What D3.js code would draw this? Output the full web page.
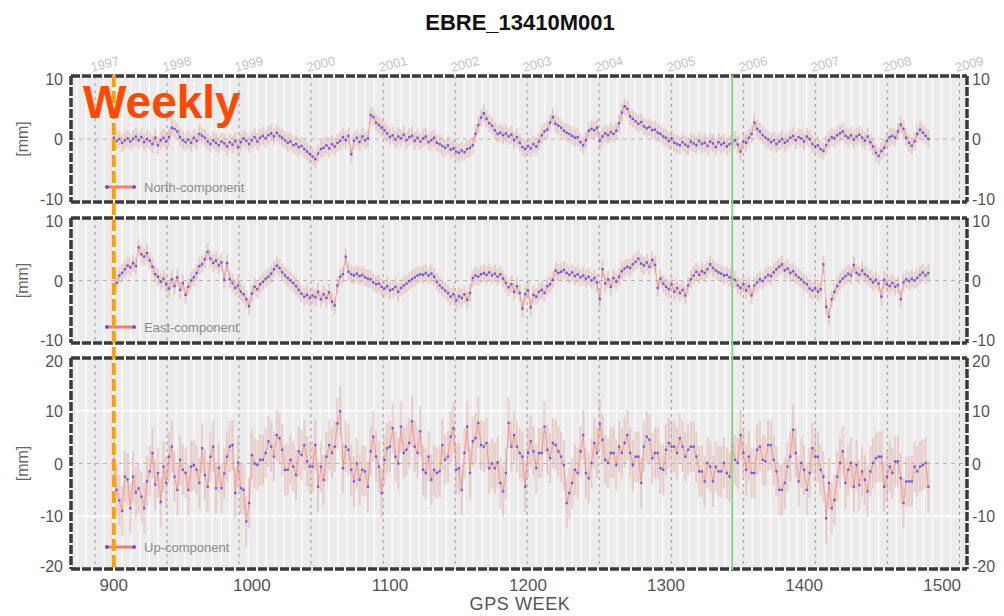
<!DOCTYPE html>
<html>
<head>
<meta charset="utf-8">
<script src="https://cdn.jsdelivr.net/npm/d3@7/dist/d3.min.js"></script>
<style>
  body { margin: 0; background: #fff; }
  svg { display: block; font-family: "Liberation Sans", Arial, sans-serif; }
</style>
</head>
<body>
<div id="chart"></div>
<script>
// station + series (mm), one value every 2 GPS weeks starting at week 900
const stationName = "EBRE_13410M001";
const firstWeek = 900;
const weekStep = 2;

const north = [
  0.2, -0.3, 0, -0.6, -0.2, 0.1, -0.4, 0, 0.4, -0.2, 0.3, -0.5, 0, -0.3, -0.8, 0.2, -1.0, -0.2, 0.2, -0.4, 0.3,
  1.8, 1.6, 1.2, 0.3, -0.2, -0.5, -0.1, -0.6, 0.2, -0.3,
  0.8, 0.5, 0.2, -0.4, -0.8, -0.2, -0.6, -1.0, -0.4, -0.7, -1.2, -0.5, -0.9, -0.3, -1.3,
  -0.5, 0.1, -0.3, -0.8, -0.2, 0.3, -0.4, 0.2, 0.5, 0.1,
  0.6, 0.9, 0.4, 1.0, 0.5, 0.2,
  -0.2, -0.6, -0.4, -1.0, -0.8, -1.3, -1.1, -1.6,
  -2.0, -2.4, -2.8, -3.2, -2.3, -1.6,
  -1.4, -1.0, -1.5, -0.8, -1.2, -0.6,
  -0.3, 0.3, -0.2, 0.5, -2.4, -0.3, 0.2, -0.5, 0.4, -0.2, 0.1,
  3.8, 3.5, 2.6, 2.2, 1.8, 1.4, 0.9,
  0.3, 0.6, -0.1, 0.4, 0.1, 0.7, -0.2, 0.3, 0.5, -0.3, 0.2, -0.4, 0.1, 0.4, -0.5, -0.2, 0.2, -0.6,
  -0.8, -1.1, -1.4, -1.0, -1.7, -1.5, -2.0, -2.2, -1.8, -2.1, -1.6, -1.4, -1.0,
  0.8, 2.2, 3.4, 4.1, 3.2, 2.5, 2.1, 1.4,
  0.8, 1.0, 0.6, 0.9, 0.4, 0.7, -0.2, 0.3, -0.6,
  -1.3, -1.6, -1.1, -1.5, -0.8, -1.2, -0.4,
  0.6, 1.2, 1.5, 2.6, 3.5,
  2.4, 2.1, 1.8, 1.3, 1.0, 0.8, 0.5, 0.2, 0.3,
  -0.5, -1.0, -0.2,
  1.3, 1.6, 1.4, 1.8,
  -0.3, 0.4, 0.9, 0.6, 1.1, 0.8, 1.3,
  2.5, 4.2, 5.2, 4.8, 3.6,
  3.2, 2.8, 2.4, 2.7, 2.0, 1.7, 1.9, 1.4, 1.5,
  1.0, 0.8, 0.4, 0.2, -0.3, 0.1,
  -0.6, -0.8, -1.0, -0.5, -0.9, -1.2, -0.4, -0.7, -1.0, -0.3, -0.8, -0.6, -1.1, -0.4, -0.7, -1.3, -0.5, -0.9, -0.6, -1.2, -0.8, -0.5, -0.2,
  -0.9, -2.0, -0.4, -0.6, 0.2, 0.8,
  2.6, 1.6, 1.2, 0.6, 0.2,
  -0.1, -0.5, -0.2, -0.8, -0.4, 0.0, -0.6, -0.3,
  0.2, 0.5, -0.2, 0.3, 0.1, -0.4, 0.4, 0.0,
  -0.8, -1.2, -1.0, -1.6, -1.9, -1.0,
  -0.2, 0.3, 0.1, 0.6, 0.9, 1.2, 0.5, 0.2, 0.6, -0.1, 0.4, 0.7, 0.2, -0.3, 0.4,
  -0.5, -1.2, -2.2, -2.7, -1.9, -1.4, -0.3,
  0.3, 0.5, 0.2, 1.2, 2.3, 1.6,
  0.2, -0.6, -1.1, -0.4,
  0.8, 1.5, 1.0, 0.5, 0.0
];

const east = [
  0.5, -0.4, 0.8, 1.2, 1.8, 2.4, 2.1, 2.8, 2.3,
  5.3, 4.2, 3.8, 4.4, 3.2,
  2.2, 1.0, 0.6, -0.2,
  0.3, -0.6, -1.3, 0.2, -0.9, 0.5, -1.5, -0.4, -2.3, -1.0, 0.0,
  0.5, 1.2, 2.3, 2.6, 3.4,
  4.6, 3.5, 2.8, 3.2, 2.4, 2.9,
  0.1, 2.8,
  0.2, -0.4, -1.2, -0.8, -1.8, -2.2, -3.0, -4.1,
  -2.1, -1.0, -1.4, -0.6, -0.2, 0.3, 0.6, 1.1, 1.8, 2.4,
  2.0, 1.3, 0.8, 0.4, 0.0, -0.4, -0.9, -1.5,
  -2.1, -2.6, -2.3, -2.8, -2.4, -2.7, -1.8, -3.0,
  -2.2, -2.8, -1.9, -3.4, -4.0, -0.8,
  0.6, 1.0, 3.8, 1.4,
  1.0, 0.8, 1.1, 0.7, 0.9, 0.5, 0.3, 0.2,
  -0.3, -0.6, -0.5, -1.0, -1.3, -0.9, -1.6, -1.4, -1.0, -1.8,
  -1.2, -0.8, -0.5, -0.1, 0.2, 0.5, 0.8,
  1.0, 0.9, 1.2, 0.8, 1.1, 0.6,
  -0.2, -0.8, -1.2, -1.6,
  -2.0, -2.6, -2.2, -3.2, -2.5, -2.8, -2.2, -3.1, -2.0,
  0.4, 0.8, 0.6, 1.0, 1.2, 0.9, 1.3, 0.8, 1.1, 0.6, 1.0, 0.3,
  -0.4, -1.1, -0.6, -1.8, -0.9, -2.0, -4.5, -2.2,
  -1.6, -4.3, -2.3, -2.6, -1.8,
  -1.5, -2.0, -0.9, -0.6, 0.1,
  1.6, 1.2, 1.4, 1.7,
  1.2, 0.9, 1.3, 0.7, 1.0, 0.5, 0.8, 0.3, 0.6, 0.0, 0.4, -0.3,
  -3.0, 1.8,
  -0.5, 0.2, -1.0, 0.4, -0.2, 0.6,
  1.5, 1.9, 2.2, 2.0, 2.6, 3.0, 3.5, 2.7,
  2.4, 2.9, 2.2, 3.3, 2.5,
  -1.2, 0.3, -0.5,
  -1.0, -1.4, -0.6, -1.8, -1.2, -2.0, -1.5, -2.4, -0.8,
  0.2, 0.8, 1.4, 0.9, 1.5, 1.2, 1.8, 2.6,
  2.0, 1.6, 1.3, 1.1, 0.8, 0.9, 0.5, 0.3, 0.1,
  -0.8, -1.2, -0.6, -1.6, -0.9, -2.4, -0.8,
  -0.3, 0.2, -0.1, 0.5, 0.9, 0.7, 1.3, 1.8, 2.2,
  2.6, 1.6, 1.9, 1.2, 1.5, 0.9, 0.5, 0.2, -0.3, -0.6,
  -1.3, -1.6, -1.2, -1.8, -1.4, 2.6,
  -4.2, -5.8, -3.0,
  -1.8, -0.9, -0.2, 0.3, 0.7,
  1.1, 0.8, 2.5, 1.2, 0.9, 1.6, 1.0, 0.7,
  0.2, -0.3, 0.1, -0.5,
  -2.6,
  0.1, -0.6, -0.9, -0.4, -1.0, -0.7, -3.0,
  -0.3, 0.2, -0.1, 0.3, 0.0, 0.4,
  0.9, 1.3, 0.8, 1.2
];

const up = [
  0.7, -5.0, -7.0, -9.0, -2.5, -3.0, -8.5, -2.5, -5.5, -4.7,
  -6.3, -8.5, -3.4, -1.5, 2.0, -4.0, -1.8, -7.3, -0.6, -3.7, 1.3,
  3.2, -2.5, -5.0, 0.7, -1.2, -1.8, -5.0, -0.6, -0.3, -1.2, -3.7,
  2.9, -2.2, -4.4, 1.3, 3.2, -4.7, -0.8, -4.7, -1.9, 1.3, 3.2,
  3.5, -5.6, 0.2, -4.7, -5.0, -11.0, -7.5, 1.6, 0.0, -0.3,
  0.7, 0.7, 2.0, 4.2, 3.2, 1.3, 5.4, 4.8, 2.6, -1.2,
  -1.2, 0.7, -0.6, -2.2, 2.3, 1.6, 3.5, 0.4, -0.6, -0.6,
  3.5, -4.4, -0.6, -3.1, 1.3, 3.5, 2.0, 3.2, 7.6, 9.9,
  -0.9, 3.2, 2.6, -1.2, -3.4, 0.0, -3.1, -1.2, -1.5, -4.4,
  2.3, 5.1, 1.3, -0.6, -5.6, 0.7, 2.9, 3.2, 6.7, 1.3,
  0.0, 7.0, 2.0, 2.6, 3.9, 8.0, 3.2, 2.0, 6.1, -1.2,
  -1.8, 1.3, -3.1, -1.2, -1.8, -1.5, 3.5, 0.7, 1.3, 5.1,
  6.7, -1.2, -0.9, -5.0, 2.0, 7.0, -1.8, 4.2, 4.8, 7.7,
  3.5, 3.2, 3.9, -0.9, 0.0, -0.9, 0.2, -3.7, -5.3, -1.8,
  7.7, 3.2, 5.4, 3.2, 2.0, 1.3,
  -4.4, 2.0, 4.2, 2.3, -0.9, 2.0, 2.0, 7.0, 2.6, 1.0,
  3.9, 3.5, 2.3, 1.3, -0.3, -7.5, -5.6, -3.7, -1.2, -1.8,
  2.3, 5.4, -1.8, -2.8, 0.1, 3.9, 2.0, 7.5, 4.5, 0.7,
  0.1, 2.0, 2.0, -0.3, 3.2, 2.0, 3.9, 5.4, 2.0, -0.3,
  1.3, 1.3, -3.7, 3.2, 5.1, 4.5, 1.0, 2.0, 2.0, -0.9,
  -1.2, 2.6, 3.9, 3.2, 3.2, 2.0, 4.8, 3.2, 1.3, 2.6,
  3.2, 3.2, 1.3, -1.5, -1.5, -3.4, 0.1, -0.6, -3.4, -0.6,
  -1.5, -1.5, 0.1, -1.8, -2.5, 3.2, 0.7, 0.1, 5.4, 2.0,
  -1.2, 1.3, -1.8, -1.8, 2.6, 3.2, 0.7, 0.4, 3.5, 3.5,
  0.7, -1.5, -5.0, -5.0, -3.7, -0.6, 1.3, 6.4, 2.0, -3.4,
  0.1, -1.2, -5.0, -1.8, 2.9, 1.3, 1.3, -1.2, -2.5, -10.4,
  -3.7, -8.5, -6.9, -2.5, 0.1, 2.3, -3.7, -1.2, 0.1, -4.4,
  -0.3, -4.1, -1.5, -3.1, -5.3, -1.5, 0.1, 1.0, 1.3, 1.3,
  -4.4, -2.5, -0.6, -1.8, 0.4, 0.4, -2.8, -7.5, -3.4, -3.4,
  -3.4, -0.6, -1.5, -0.6, -0.3, 0.1, -4.4
];

const sigmaNorth = 1.4;
const sigmaEast = 1.4;
const sigmaUp = 4.8;

const xTickValues = [900, 1000, 1100, 1200, 1300, 1400, 1500];
const yearLabels = [1997, 1998, 1999, 2000, 2001, 2002, 2003, 2004, 2005, 2006, 2007, 2008, 2009];
const referenceWeek = 900;   // orange dashed line
const changeWeek = 1348;     // green line

const width = 1004, height = 616;
const plotLeft = 71, plotRight = 967;

const svg = d3.select("#chart").append("svg")
  .attr("width", width)
  .attr("height", height);

const x = d3.scaleLinear().domain([869, 1518]).range([plotLeft, plotRight]);

// GPS week of 1 January for each year label
const gpsEpoch = Date.UTC(1980, 0, 6);
const toGpsWeek = ms => (ms - gpsEpoch) / (7 * 86400000);
const yearWeeks = yearLabels.map(y => toGpsWeek(Date.UTC(y, 0, 1)));

// light stripes inside the panels, 8 per year
let stripeWeeks = [];
for (let i = -1; i < yearWeeks.length - 1; i++) {
  const start = i < 0 ? yearWeeks[0] - (yearWeeks[1] - yearWeeks[0]) : yearWeeks[i];
  const span = i < 0 ? yearWeeks[1] - yearWeeks[0] : yearWeeks[i + 1] - yearWeeks[i];
  for (let k = 1; k < 8; k++) stripeWeeks.push(start + span * k / 8);
}

const panels = [
  {name: "North-component", values: north, sigma: sigmaNorth, domain: [-10, 10], ticks: [-10, 0, 10], grid: [], top: 76, bottom: 202, legendY: 187},
  {name: "East-component", values: east, sigma: sigmaEast, domain: [-10, 10], ticks: [-10, 0, 10], grid: [], top: 218, bottom: 343, legendY: 327},
  {name: "Up-component", values: up, sigma: sigmaUp, domain: [-20, 20], ticks: [-20, -10, 0, 10, 20], grid: [-10, 10], top: 358, bottom: 569, legendY: 547}
];

// title
svg.append("text")
  .attr("x", 520)
  .attr("y", 30)
  .attr("text-anchor", "middle")
  .attr("font-size", "22px")
  .attr("font-weight", "bold")
  .attr("fill", "#111")
  .text(stationName);

// year labels above the first panel
svg.selectAll(".year")
  .data(yearLabels)
  .enter().append("text")
  .attr("class", "year")
  .attr("transform", (d, i) => "translate(" + (x(yearWeeks[i]) - 3) + ",72) rotate(-15)")
  .attr("font-size", "13px")
  .attr("fill", "#c4c4c4")
  .text(d => d);

panels.forEach(p => {
  const y = d3.scaleLinear().domain(p.domain).range([p.bottom, p.top]);
  const g = svg.append("g");
  const pts = p.values.map((v, i) => ({week: firstWeek + i * weekStep, v: v}));

  g.append("rect")
    .attr("x", plotLeft).attr("y", p.top)
    .attr("width", plotRight - plotLeft).attr("height", p.bottom - p.top)
    .attr("fill", "#ebebeb");

  g.selectAll(".stripe")
    .data(stripeWeeks.filter(w => x(w) > plotLeft + 2 && x(w) < plotRight - 2))
    .enter().append("line")
    .attr("x1", d => x(d)).attr("x2", d => x(d))
    .attr("y1", p.top).attr("y2", p.bottom)
    .attr("stroke", "#fafafa")
    .attr("stroke-width", 1.6);

  g.selectAll(".hgrid")
    .data(p.grid)
    .enter().append("line")
    .attr("x1", plotLeft).attr("x2", plotRight)
    .attr("y1", d => y(d)).attr("y2", d => y(d))
    .attr("stroke", "#fafafa")
    .attr("stroke-width", 2);

  g.selectAll(".yearline")
    .data(yearWeeks)
    .enter().append("line")
    .attr("x1", d => x(d)).attr("x2", d => x(d))
    .attr("y1", p.top).attr("y2", p.bottom)
    .attr("stroke", "#9c9c9c")
    .attr("stroke-width", 1)
    .attr("stroke-dasharray", "3,4");

  g.append("line")
    .attr("x1", plotLeft).attr("x2", plotRight)
    .attr("y1", y(0)).attr("y2", y(0))
    .attr("stroke", "#b4b4b4")
    .attr("stroke-width", 1)
    .attr("stroke-dasharray", "4,4");

  // error bars
  g.selectAll(".err")
    .data(pts)
    .enter().append("line")
    .attr("x1", d => x(d.week)).attr("x2", d => x(d.week))
    .attr("y1", d => y(d.v - p.sigma)).attr("y2", d => y(d.v + p.sigma))
    .attr("stroke", "#e2a89e")
    .attr("stroke-opacity", 0.45)
    .attr("stroke-width", 2.2);

  // connecting line
  g.append("path")
    .datum(pts)
    .attr("fill", "none")
    .attr("stroke", "#ff4a4a")
    .attr("stroke-opacity", 0.4)
    .attr("stroke-width", 1.1)
    .attr("d", d3.line().x(d => x(d.week)).y(d => y(d.v)));

  g.selectAll(".pt")
    .data(pts)
    .enter().append("rect")
    .attr("x", d => x(d.week) - 1.2).attr("y", d => y(d.v) - 1.2)
    .attr("width", 2.4).attr("height", 2.4)
    .attr("fill", "#4a4af0")
    .attr("fill-opacity", 0.8);

  // legend
  g.append("line")
    .attr("x1", 105).attr("x2", 136)
    .attr("y1", p.legendY).attr("y2", p.legendY)
    .attr("stroke", "#ff5a5a").attr("stroke-width", 3).attr("stroke-opacity", 0.8);
  g.selectAll(".legpt")
    .data([107, 134])
    .enter().append("circle")
    .attr("cx", d => d).attr("cy", p.legendY).attr("r", 1.8)
    .attr("fill", "#4a4af0");
  g.append("text")
    .attr("x", 144).attr("y", p.legendY + 4.5)
    .attr("font-size", "13px")
    .attr("fill", "#8a8a8a")
    .text(p.name);

  // frame
  const frame = [
    [plotLeft, p.top, plotRight, p.top],
    [plotLeft, p.bottom, plotRight, p.bottom],
    [plotLeft, p.top, plotLeft, p.bottom],
    [plotRight, p.top, plotRight, p.bottom]
  ];
  g.selectAll(".frame")
    .data(frame)
    .enter().append("line")
    .attr("x1", d => d[0]).attr("y1", d => d[1])
    .attr("x2", d => d[2]).attr("y2", d => d[3])
    .attr("stroke", "#3a3a3a")
    .attr("stroke-width", 3.5)
    .attr("stroke-dasharray", "9,2");

  // y tick labels both sides; the end labels are nudged inward so panels do not collide
  const labelY = d => y(d) + 6 + (d === p.domain[0] ? -3 : d === p.domain[1] ? 3 : 0);
  g.selectAll(".yl")
    .data(p.ticks)
    .enter().append("text")
    .attr("x", 63).attr("y", labelY)
    .attr("text-anchor", "end")
    .attr("font-size", "16px")
    .attr("fill", "#555")
    .text(d => d);
  g.selectAll(".yr")
    .data(p.ticks)
    .enter().append("text")
    .attr("x", 972).attr("y", labelY)
    .attr("font-size", "16px")
    .attr("fill", "#555")
    .text(d => d);

  g.append("text")
    .attr("transform", "translate(28," + ((p.top + p.bottom) / 2) + ") rotate(-90)")
    .attr("text-anchor", "middle")
    .attr("font-size", "16px")
    .attr("fill", "#666")
    .text("[mm]");
});

// x axis labels
svg.selectAll(".xl")
  .data(xTickValues)
  .enter().append("text")
  .attr("x", d => x(d)).attr("y", 591)
  .attr("text-anchor", "middle")
  .attr("font-size", "17px")
  .attr("fill", "#555")
  .text(d => d);

svg.append("text")
  .attr("x", 520).attr("y", 610)
  .attr("text-anchor", "middle")
  .attr("font-size", "18px")
  .attr("letter-spacing", "0.6px")
  .attr("fill", "#555")
  .text("GPS WEEK");

// reference lines across all panels
svg.append("line")
  .attr("x1", x(changeWeek)).attr("x2", x(changeWeek))
  .attr("y1", 75).attr("y2", 570)
  .attr("stroke", "#86d486")
  .attr("stroke-width", 2);

svg.append("line")
  .attr("x1", x(referenceWeek)).attr("x2", x(referenceWeek))
  .attr("y1", 75).attr("y2", 570)
  .attr("stroke", "#f7a400")
  .attr("stroke-width", 4)
  .attr("stroke-dasharray", "12,4");

svg.append("text")
  .attr("x", 83).attr("y", 118)
  .attr("font-size", "46px")
  .attr("font-weight", "bold")
  .attr("fill", "#ff4800")
  .text("Weekly");
</script>
</body>
</html>
